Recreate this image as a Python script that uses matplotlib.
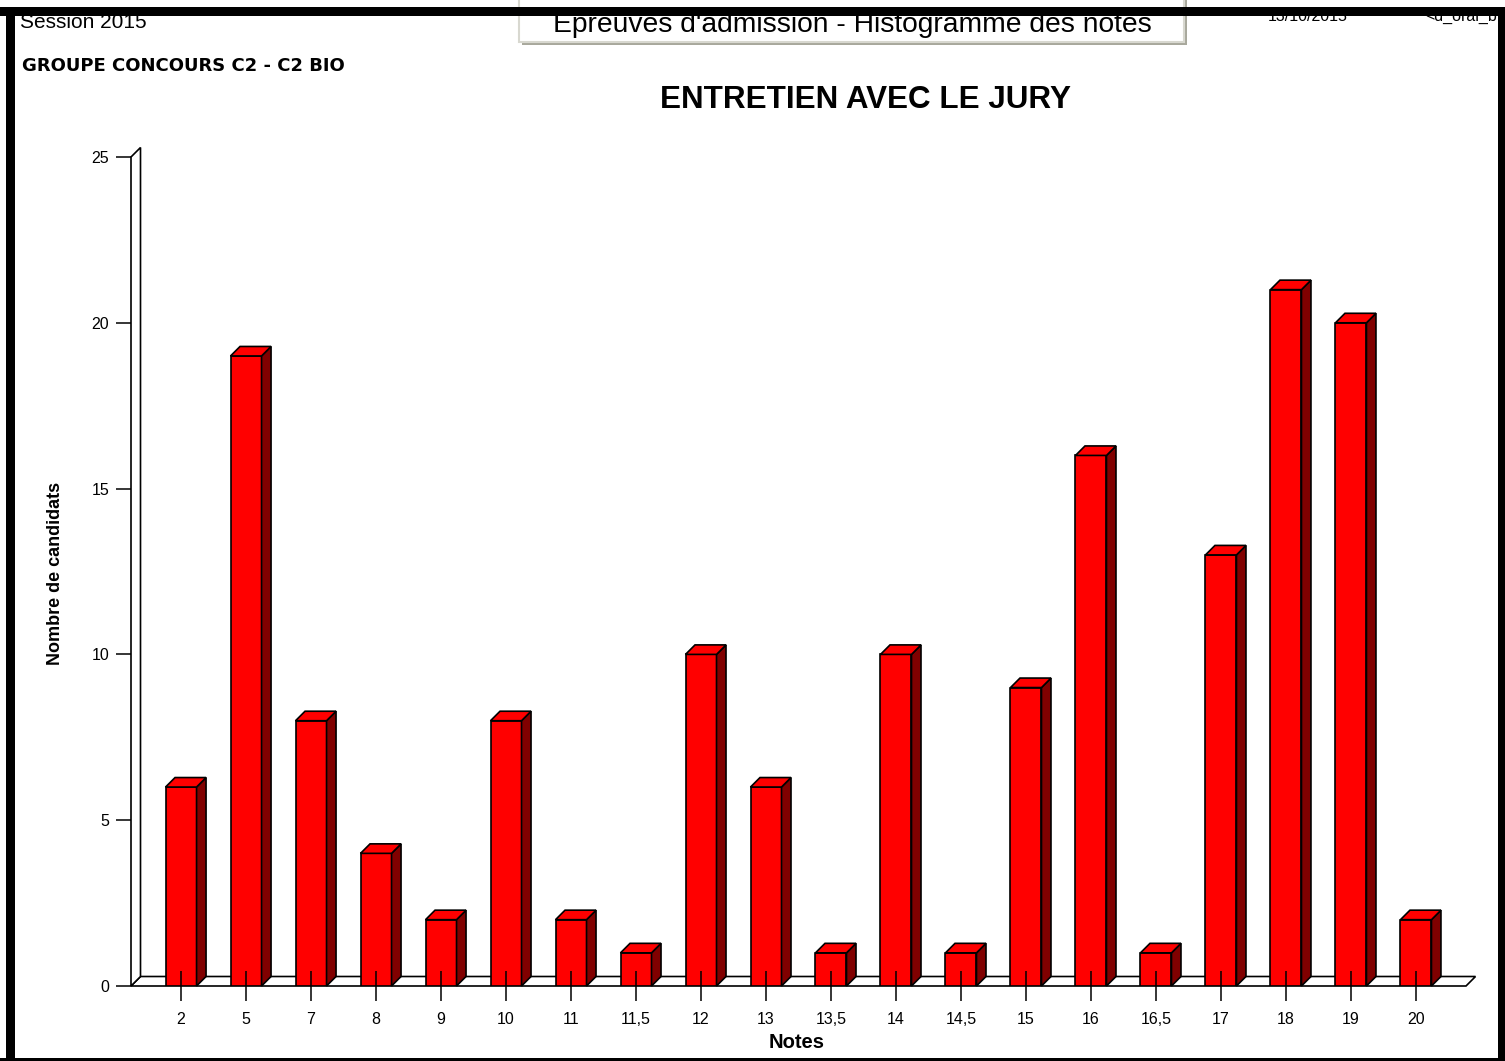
import numpy as np
import matplotlib.pyplot as plt
from matplotlib.patches import Polygon, Rectangle

notes = ["2", "5", "7", "8", "9", "10", "11", "11,5", "12", "13", "13,5",
         "14", "14,5", "15", "16", "16,5", "17", "18", "19", "20"]
candidats = [6, 19, 8, 4, 2, 8, 2, 1, 10, 6, 1, 10, 1, 9, 16, 1, 13, 21, 20, 2]
yticks = [0, 5, 10, 15, 20, 25]

W, H = 1505, 1061
plt.rcParams['font.family'] = ['Liberation Sans', 'DejaVu Sans']

fig = plt.figure(figsize=(W / 100, H / 100), dpi=100)
fig.patch.set_facecolor("white")


def px(x, y):
    # pixel position -> figure fraction
    return x / W, 1 - y / H


# plot box in pixels
left, right, top, bottom = 131, 1466, 157, 986
ax = fig.add_axes([left / W, 1 - bottom / H, (right - left) / W, (bottom - top) / H])
x = np.arange(len(notes))
x0, x1 = -0.77, len(notes) - 1 + 0.77
ax.set_xlim(x0, x1)
ax.set_ylim(0, 25)
for s in ax.spines.values():
    s.set_visible(False)
ax.patch.set_visible(False)

# depth of the 3D effect, in data units
depth = 9.5
dx = depth * (x1 - x0) / (right - left)
dy = depth * 25 / (bottom - top)

# floor and left wall
ax.add_patch(Polygon([(x0, 0), (x1, 0), (x1 + dx, dy), (x0 + dx, dy)], closed=True,
                     facecolor="white", edgecolor="black", lw=1.2, zorder=1, clip_on=False))
ax.add_patch(Polygon([(x0, 0), (x0 + dx, dy), (x0 + dx, 25 + dy), (x0, 25)], closed=True,
                     facecolor="white", edgecolor="black", lw=1.2, zorder=1, clip_on=False))

# bars
w = 0.477
ax.bar(x, candidats, width=w, color="#ff0000", edgecolor="black", lw=1.2, zorder=2)
for xi, v in zip(x, candidats):
    xl, xr = xi - w / 2, xi + w / 2
    ax.add_patch(Polygon([(xr, 0), (xr + dx, dy), (xr + dx, v + dy), (xr, v)], closed=True,
                         facecolor="#800000", edgecolor="black", lw=1.2, zorder=2, clip_on=False))
    ax.add_patch(Polygon([(xl, v), (xr, v), (xr + dx, v + dy), (xl + dx, v + dy)], closed=True,
                         facecolor="#ff0000", edgecolor="black", lw=1.2, zorder=2, clip_on=False))

ax.set_axisbelow(False)
ax.set_xticks(x)
ax.set_xticklabels(notes, fontsize=11.5)
ax.tick_params(axis="x", direction="inout", length=21.6, width=1.1, pad=8, colors="black")
ax.set_yticks(yticks)
ax.set_yticklabels([str(t) for t in yticks], fontsize=11.5)
ax.tick_params(axis="y", direction="out", length=10.8, width=1.1, pad=5)

# texts
fig.text(*px(797, 1043), "Notes", fontsize=14.5, fontweight="bold", ha="center", va="center")
fig.text(*px(56, 573), "Nombre de candidats", fontsize=13, fontweight="bold",
         rotation=90, ha="center", va="center")
fig.text(*px(865, 100), "ENTRETIEN AVEC LE JURY", fontsize=22.6, fontweight="bold",
         ha="center", va="center")
fig.text(*px(22, 66), "GROUPE CONCOURS C2 - C2 BIO", fontsize=13, fontweight="bold",
         ha="left", va="center", family=["DejaVu Sans"])
fig.text(*px(20, 28), "Session 2015", fontsize=15, ha="left", va="baseline")

# header box
fig.add_artist(Rectangle(px(522, 45), 665 / W, 60 / H, transform=fig.transFigure,
                         facecolor="#a8a89c", edgecolor="none", zorder=4))
fig.add_artist(Rectangle(px(519, 42), 665 / W, 60 / H, transform=fig.transFigure,
                         facecolor="white", edgecolor="#d8d8d0", lw=1.5, zorder=4))
fig.text(*px(852, 32), "Epreuves d'admission - Histogramme des notes", fontsize=20.3,
         ha="center", va="baseline", zorder=5)
fig.text(*px(1268, 21), "13/10/2015", fontsize=11.5, ha="left", va="baseline")
fig.text(*px(1425, 21), "<d_oral_b", fontsize=11.5, ha="left", va="baseline")

# black frame
for (bx, by, bw, bh) in [(0, 7, W, 9), (6, 7, 9, H), (1498, 7, 10, H), (0, 1058, W, 5)]:
    fig.add_artist(Rectangle(px(bx, by + bh), bw / W, bh / H, transform=fig.transFigure,
                             facecolor="black", edgecolor="none", zorder=10))

fig.savefig("out.png", dpi=100)
